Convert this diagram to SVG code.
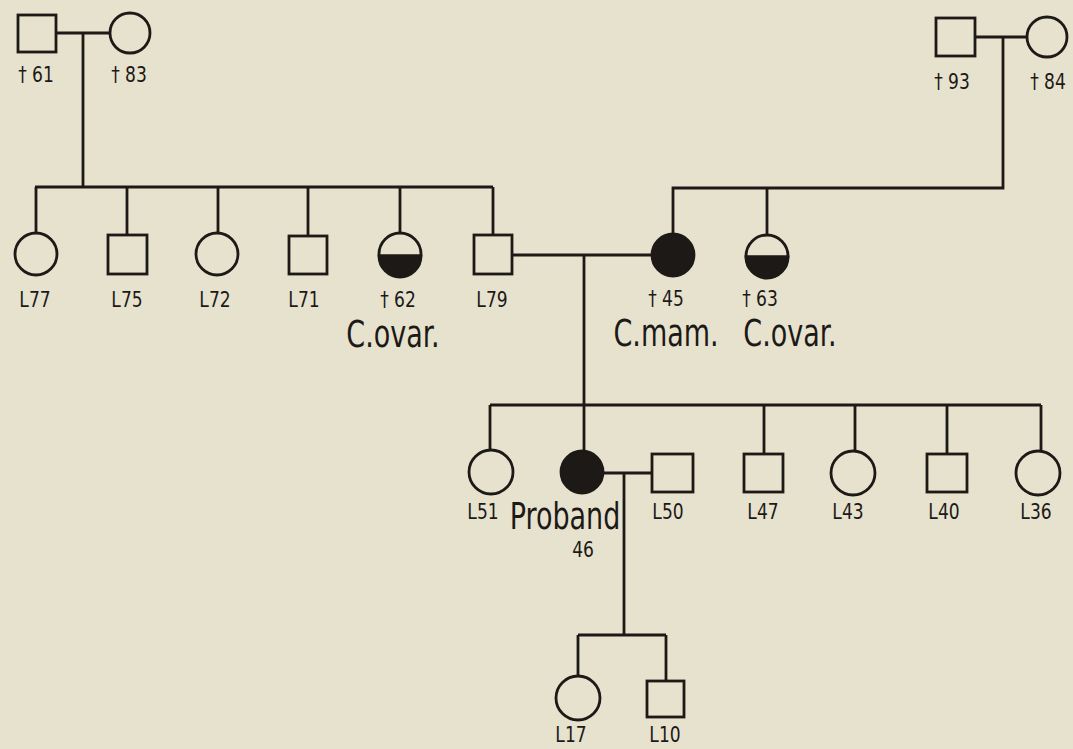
<svg xmlns="http://www.w3.org/2000/svg" width="1073" height="749" viewBox="0 0 1073 749">
<style>
.bg{fill:#e6e2ce}
.s{fill:none;stroke:#1c1916;stroke-width:2.8}
.f{fill:#1c1916;stroke:#1c1916;stroke-width:2.8}
.o{fill:none;stroke:#1c1916;stroke-width:2.8}
text{font-family:"DejaVu Sans Condensed","DejaVu Sans",sans-serif;font-stretch:condensed;fill:#1c1916;text-anchor:middle}
.l{font-size:19px}
.b{font-size:30px}
</style>
<rect class="bg" x="0" y="0" width="1073" height="749"/>
<g id="connectors" class="s">
<path d="M56,33H110"/>
<path d="M83,33V187"/>
<path d="M35,187H493"/>
<path d="M36,187V232M127,187V235M218,187V232M308,187V235M400,187V233M493,187V235"/>
<path d="M975,37H1027"/>
<path d="M1003,37V188H673V234"/>
<path d="M767,188V235"/>
<path d="M512,255H652"/>
<path d="M584,255V450"/>
<path d="M490,405H1041"/>
<path d="M490,405V450M764,405V454M855,405V451M947,405V454M1041,405V451"/>
<path d="M603,473H652"/>
<path d="M624,473V635"/>
<path d="M578,635H666"/>
<path d="M578,635V676M666,635V681"/>
</g>
<g id="gp1m"><rect class="o" x="18" y="15" width="38" height="37"/><text class="l" transform="translate(36,82) scale(1,1.15)">† 61</text></g>
<g id="gp1f"><circle class="o" cx="130" cy="33" r="20"/><text class="l" transform="translate(129,82) scale(1,1.15)">† 83</text></g>
<g id="gp2m"><rect class="o" x="936" y="18" width="39" height="38"/><text class="l" transform="translate(952,89) scale(1,1.15)">† 93</text></g>
<g id="gp2f"><circle class="o" cx="1047" cy="37" r="20"/><text class="l" transform="translate(1048,89) scale(1,1.15)">† 84</text></g>
<g id="c77"><circle class="o" cx="36" cy="254" r="21"/><text class="l" transform="translate(35,307) scale(1,1.15)">L77</text></g>
<g id="c75"><rect class="o" x="108" y="235" width="39" height="39"/><text class="l" transform="translate(127,307) scale(1,1.15)">L75</text></g>
<g id="c72"><circle class="o" cx="217" cy="254" r="21"/><text class="l" transform="translate(215,307) scale(1,1.15)">L72</text></g>
<g id="c71"><rect class="o" x="289" y="236" width="38" height="38"/><text class="l" transform="translate(304,307) scale(1,1.15)">L71</text></g>
<g id="c62"><path class="f" d="M379,256A21,21 0 0 0 421,256Z"/><circle class="o" cx="400" cy="254" r="21"/><path class="s" d="M379,256H421"/><text class="l" transform="translate(398,307) scale(1,1.15)">† 62</text><text class="b" transform="translate(393,347) scale(1,1.25)">C.ovar.</text></g>
<g id="c79"><rect class="o" x="474" y="235" width="38" height="39"/><text class="l" transform="translate(492,307) scale(1,1.15)">L79</text></g>
<g id="m45"><circle class="f" cx="673" cy="255" r="21"/><text class="l" transform="translate(666,306) scale(1,1.15)">† 45</text><text class="b" transform="translate(666,346) scale(1,1.25)">C.mam.</text></g>
<g id="a63"><path class="f" d="M746,257A21,21 0 0 0 788,257Z"/><circle class="o" cx="767" cy="256" r="21"/><path class="s" d="M746,257H788"/><text class="l" transform="translate(760,306) scale(1,1.15)">† 63</text><text class="b" transform="translate(790,346) scale(1,1.25)">C.ovar.</text></g>
<g id="s51"><circle class="o" cx="491" cy="472" r="22"/><text class="l" transform="translate(483,519) scale(1,1.15)">L51</text></g>
<g id="proband"><circle class="f" cx="582" cy="472" r="21"/><text class="b" transform="translate(565,529) scale(1,1.25)">Proband</text><text class="l" transform="translate(583,557) scale(1,1.15)">46</text></g>
<g id="s50"><rect class="o" x="652" y="454" width="41" height="38"/><text class="l" transform="translate(668,519) scale(1,1.15)">L50</text></g>
<g id="s47"><rect class="o" x="744" y="454" width="39" height="38"/><text class="l" transform="translate(763,519) scale(1,1.15)">L47</text></g>
<g id="s43"><circle class="o" cx="853" cy="473" r="22"/><text class="l" transform="translate(848,519) scale(1,1.15)">L43</text></g>
<g id="s40"><rect class="o" x="927" y="454" width="40" height="38"/><text class="l" transform="translate(944,519) scale(1,1.15)">L40</text></g>
<g id="s36"><circle class="o" cx="1038" cy="473" r="22"/><text class="l" transform="translate(1036,519) scale(1,1.15)">L36</text></g>
<g id="g17"><circle class="o" cx="578" cy="698" r="22"/><text class="l" transform="translate(571,742) scale(1,1.15)">L17</text></g>
<g id="g10"><rect class="o" x="647" y="681" width="37" height="36"/><text class="l" transform="translate(665,742) scale(1,1.15)">L10</text></g>
</svg>
